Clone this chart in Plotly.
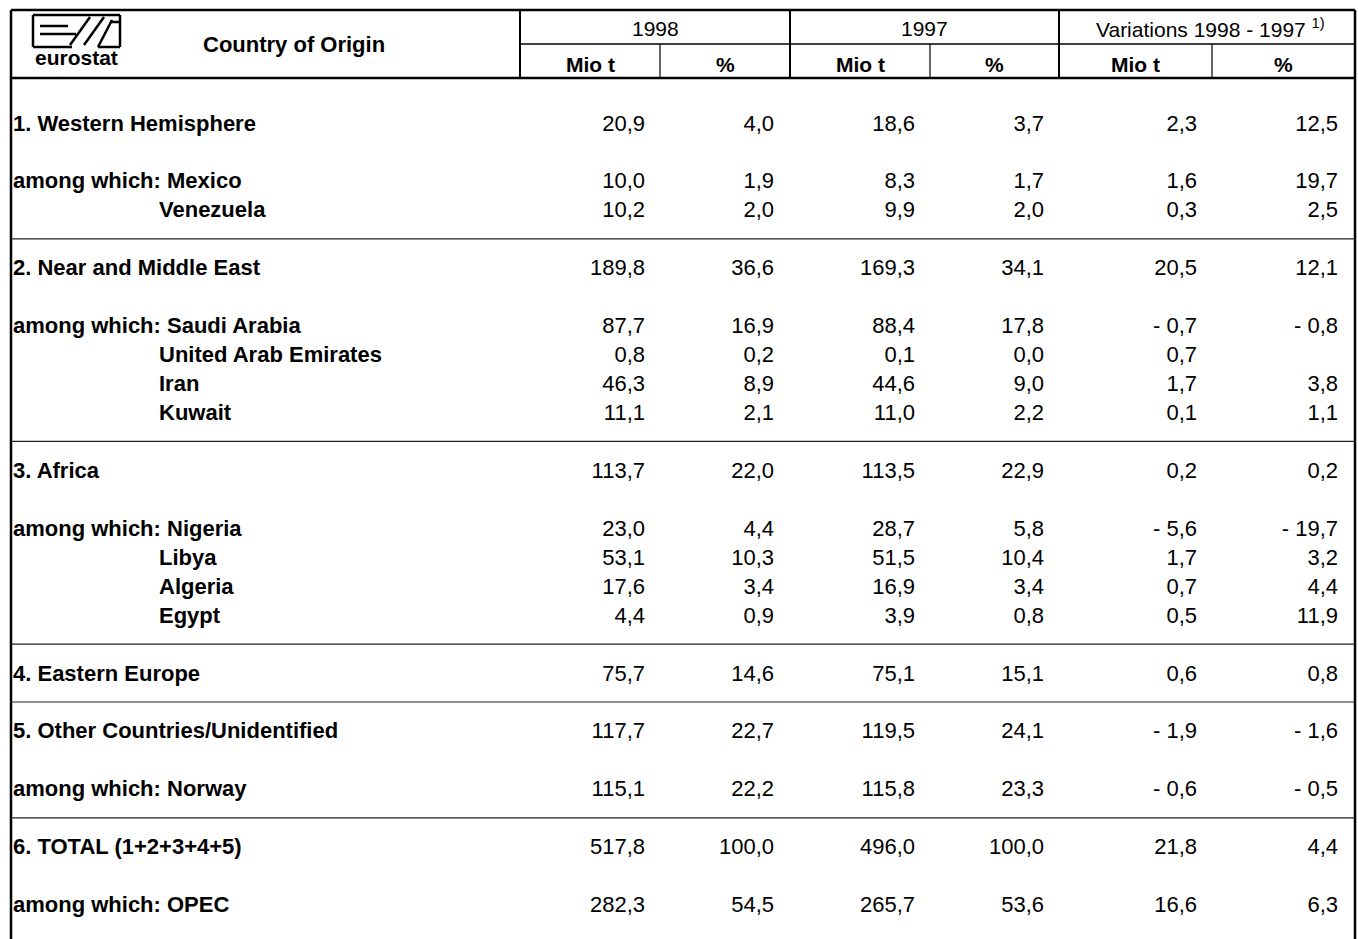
import plotly.graph_objects as go

# ---------------- data ----------------
labels = ["1. Western Hemisphere", "among which: Mexico", "Venezuela",
          "2. Near and Middle East", "among which: Saudi Arabia", "United Arab Emirates",
          "Iran", "Kuwait", "3. Africa", "among which: Nigeria", "Libya", "Algeria",
          "Egypt", "4. Eastern Europe", "5. Other Countries/Unidentified",
          "among which: Norway", "6. TOTAL (1+2+3+4+5)", "among which: OPEC"]
indented = [False, False, True, False, False, True, True, True, False, False,
            True, True, True, False, False, False, False, False]
slots = [0, 2, 3, 5, 7, 8, 9, 10, 12, 14, 15, 16, 17, 19, 21, 23, 25, 27]
separator_slots = [4, 11, 18, 20, 24]

mio_1998 = [20.9, 10.0, 10.2, 189.8, 87.7, 0.8, 46.3, 11.1, 113.7, 23.0, 53.1, 17.6, 4.4, 75.7, 117.7, 115.1, 517.8, 282.3]
pct_1998 = [4.0, 1.9, 2.0, 36.6, 16.9, 0.2, 8.9, 2.1, 22.0, 4.4, 10.3, 3.4, 0.9, 14.6, 22.7, 22.2, 100.0, 54.5]
mio_1997 = [18.6, 8.3, 9.9, 169.3, 88.4, 0.1, 44.6, 11.0, 113.5, 28.7, 51.5, 16.9, 3.9, 75.1, 119.5, 115.8, 496.0, 265.7]
pct_1997 = [3.7, 1.7, 2.0, 34.1, 17.8, 0.0, 9.0, 2.2, 22.9, 5.8, 10.4, 3.4, 0.8, 15.1, 24.1, 23.3, 100.0, 53.6]
var_mio = [2.3, 1.6, 0.3, 20.5, -0.7, 0.7, 1.7, 0.1, 0.2, -5.6, 1.7, 0.7, 0.5, 0.6, -1.9, -0.6, 21.8, 16.6]
var_pct = [12.5, 19.7, 2.5, 12.1, -0.8, None, 3.8, 1.1, 0.2, -19.7, 3.2, 4.4, 11.9, 0.8, -1.6, -0.5, 4.4, 6.3]

year_headers = ["1998", "1997", "Variations 1998 - 1997 <sup>1)</sup>"]
sub_headers = ["Mio t", "%", "Mio t", "%", "Mio t", "%"]

# ---------------- layout constants ----------------
W, H = 1358, 939
FONT = "Liberation Sans, Arial, sans-serif"
Y0, STEP = 123.0, 28.95
TEXT_DY = 2
LEFT, RIGHT, TOP = 11, 1355, 10
HDR_MID, HDR_BOT = 44, 78
col_edges = [520, 660, 790, 930, 1059, 1212, RIGHT]
col_right = [645, 774, 915, 1044, 1197, 1338]


def fmt(v):
    if v is None:
        return ""
    s = f"{abs(v):.1f}".replace(".", ",")
    return "- " + s if v < 0 else s


def row_y(slot):
    return Y0 + STEP * slot


fig = go.Figure()

# row labels
ys = [row_y(s) + TEXT_DY for s in slots]
xs = [159 if ind else 13 for ind in indented]
fig.add_trace(go.Scatter(
    x=xs, y=ys, text=[f"<b>{t}</b>" for t in labels], mode="text",
    textposition="middle right", textfont=dict(family=FONT, size=22, color="black"),
    hoverinfo="skip", showlegend=False, cliponaxis=False))

# numeric columns
for xr, col in zip(col_right, [mio_1998, pct_1998, mio_1997, pct_1997, var_mio, var_pct]):
    keep = [i for i, v in enumerate(col) if v is not None]
    fig.add_trace(go.Scatter(
        x=[xr] * len(keep), y=[ys[i] for i in keep], text=[fmt(col[i]) for i in keep], mode="text",
        textposition="middle left", textfont=dict(family=FONT, size=22, color="black"),
        hoverinfo="skip", showlegend=False, cliponaxis=False))

shapes = []
line_hdr = dict(color="black", width=2.5)
# outer borders
shapes.append(dict(type="line", x0=LEFT, x1=RIGHT, y0=TOP, y1=TOP, line=line_hdr))
shapes.append(dict(type="line", x0=LEFT, x1=LEFT, y0=TOP, y1=H, line=line_hdr))
shapes.append(dict(type="line", x0=RIGHT, x1=RIGHT, y0=TOP, y1=H, line=line_hdr))
shapes.append(dict(type="line", x0=LEFT, x1=RIGHT, y0=HDR_BOT, y1=HDR_BOT, line=line_hdr))
shapes.append(dict(type="line", x0=col_edges[0], x1=RIGHT, y0=HDR_MID, y1=HDR_MID, line=dict(color="black", width=1.5)))
# header verticals
for i, xe in enumerate(col_edges[:-1]):
    y_start = TOP if i % 2 == 0 else HDR_MID
    shapes.append(dict(type="line", x0=xe, x1=xe, y0=y_start, y1=HDR_BOT,
                       line=dict(color="black", width=2 if i % 2 == 0 else 1.2)))
# body separators
for s in separator_slots:
    y = row_y(s)
    shapes.append(dict(type="line", x0=LEFT, x1=RIGHT, y0=y, y1=y, line=dict(color="#222", width=1.2)))

# eurostat logo
lw = dict(color="black", width=2.5)
shapes += [
    dict(type="line", x0=33, x1=120, y0=15, y1=15, line=lw),
    dict(type="line", x0=33, x1=33, y0=15, y1=47, line=lw),
    dict(type="line", x0=120, x1=120, y0=15, y1=47, line=lw),
    dict(type="line", x0=33, x1=72, y0=47, y1=47, line=lw),
    dict(type="line", x0=98, x1=120, y0=47, y1=47, line=lw),
    dict(type="line", x0=40, x1=68, y0=26, y1=26, line=lw),
    dict(type="line", x0=40, x1=76, y0=34, y1=34, line=lw),
    dict(type="line", x0=70, x1=90, y0=45, y1=17, line=lw),
    dict(type="line", x0=84, x1=104, y0=45, y1=17, line=lw),
    dict(type="line", x0=98, x1=112, y0=47, y1=20, line=lw),
    dict(type="line", x0=110, x1=120, y0=22, y1=22, line=lw),
]

annotations = [
    dict(x=76, y=57, text="<b>eurostat</b>", showarrow=False, xanchor="center", yanchor="middle",
         font=dict(family=FONT, size=21, color="black")),
    dict(x=294, y=44, text="<b>Country of Origin</b>", showarrow=False, xanchor="center", yanchor="middle",
         font=dict(family=FONT, size=22, color="black")),
]
for i, t in enumerate(year_headers):
    xc = (col_edges[2 * i] + col_edges[2 * i + 2]) / 2
    if i == 2:
        xc += 3
    annotations.append(dict(x=xc, y=28, text=t, showarrow=False, xanchor="center", yanchor="middle",
                            font=dict(family=FONT, size=21, color="black")))
for i, t in enumerate(sub_headers):
    xc = (col_edges[i] + col_edges[i + 1]) / 2
    annotations.append(dict(x=xc, y=64, text=f"<b>{t}</b>", showarrow=False, xanchor="center", yanchor="middle",
                            font=dict(family=FONT, size=21, color="black")))

fig.update_layout(
    width=W, height=H, margin=dict(l=0, r=0, t=0, b=0),
    paper_bgcolor="white", plot_bgcolor="white",
    xaxis=dict(range=[0, W], visible=False, fixedrange=True),
    yaxis=dict(range=[H, 0], visible=False, fixedrange=True),
    shapes=shapes, annotations=annotations, showlegend=False,
)

fig.write_html("out.html", config={"displayModeBar": False},
               post_script="document.body.style.margin='0px';document.body.style.overflow='hidden';")
